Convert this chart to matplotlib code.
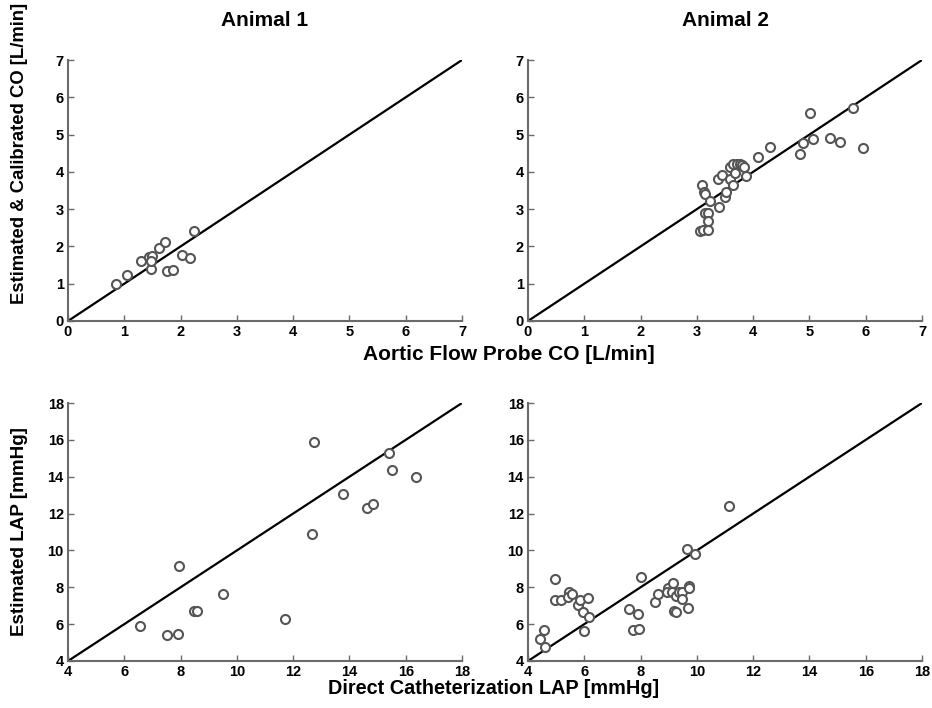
import matplotlib.pyplot as plt

plt.rcParams["font.family"] = ["Liberation Sans", "DejaVu Sans"]
plt.rcParams["font.weight"] = "bold"

# Animal 1 - cardiac output [L/min]
co1_probe = [0.85, 1.04, 1.29, 1.44, 1.50, 1.47, 1.47, 1.62, 1.72, 1.75, 1.87, 2.02, 2.17, 2.24]
co1_est = [0.99, 1.24, 1.61, 1.72, 1.75, 1.39, 1.62, 1.95, 2.12, 1.34, 1.38, 1.76, 1.70, 2.42]

# Animal 2 - cardiac output [L/min]
co2_probe = [3.10, 3.13, 3.15, 3.24, 3.14, 3.20, 3.19, 3.05, 3.11, 3.20, 3.40, 3.50,
             3.52, 3.37, 3.45, 3.58, 3.64, 3.58, 3.64, 3.68, 3.72, 3.76, 3.80, 3.84,
             3.87, 4.08, 4.30, 4.83, 4.89, 5.01, 5.06, 5.37, 5.55, 5.78, 5.96]
co2_est = [3.65, 3.47, 3.40, 3.23, 2.90, 2.90, 2.69, 2.41, 2.43, 2.44, 3.07, 3.32,
           3.47, 3.82, 3.91, 3.81, 3.64, 4.12, 4.21, 3.98, 4.20, 4.22, 4.18, 4.12,
           3.89, 4.41, 4.66, 4.48, 4.78, 5.57, 4.88, 4.92, 4.80, 5.70, 4.63]

# Animal 1 - LAP [mmHg]
lap1_direct = [6.56, 7.52, 7.92, 7.94, 8.49, 8.60, 9.50, 11.72, 12.67, 12.75,
               13.78, 14.63, 14.83, 15.41, 15.50, 16.38]
lap1_est = [5.90, 5.41, 5.46, 9.17, 6.73, 6.69, 7.62, 6.30, 10.87, 15.87,
            13.06, 12.30, 12.52, 15.27, 14.35, 13.98]

# Animal 2 - LAP [mmHg]
lap2_direct = [4.44, 4.57, 4.60, 4.96, 4.96, 5.16, 5.45, 5.41, 5.58, 5.77, 5.86, 6.13,
               5.97, 6.16, 6.00, 7.58, 7.90, 7.74, 7.94, 8.03, 8.51, 8.63, 8.96, 8.93,
               9.15, 9.13, 9.26, 9.36, 9.46, 9.48, 9.20, 9.25, 9.70, 9.71, 9.71, 9.64,
               9.93, 11.15]
lap2_est = [5.21, 5.70, 4.74, 8.47, 7.33, 7.29, 7.73, 7.47, 7.62, 7.04, 7.33, 7.44,
            6.64, 6.39, 5.61, 6.84, 6.55, 5.70, 5.75, 8.57, 7.20, 7.62, 7.98, 7.74,
            8.23, 7.74, 7.51, 7.74, 7.73, 7.36, 6.73, 6.68, 6.90, 8.09, 7.95, 10.06,
            9.82, 12.41]

co_ticks = [0, 1, 2, 3, 4, 5, 6, 7]
lap_ticks = [4, 6, 8, 10, 12, 14, 16, 18]

fig = plt.figure(figsize=(9.32, 7.08), dpi=100)

left_x, right_x, w = 68 / 932, 528 / 932, 394 / 932
top_y, top_h = 1 - 321 / 708, 261 / 708
bot_y, bot_h = 1 - 661 / 708, 258 / 708

panels = [
    ([left_x, top_y, w, top_h], co1_probe, co1_est, co_ticks, "Animal 1"),
    ([right_x, top_y, w, top_h], co2_probe, co2_est, co_ticks, "Animal 2"),
    ([left_x, bot_y, w, bot_h], lap1_direct, lap1_est, lap_ticks, None),
    ([right_x, bot_y, w, bot_h], lap2_direct, lap2_est, lap_ticks, None),
]

for rect, xs, ys, ticks, title in panels:
    ax = fig.add_axes(rect)
    lo, hi = ticks[0], ticks[-1]
    ax.plot([lo, hi], [lo, hi], color="black", linewidth=1.6, zorder=2)
    ax.plot(xs, ys, linestyle="none", marker="o", markersize=6.5,
            markerfacecolor="white", markeredgecolor="#555555",
            markeredgewidth=1.5, zorder=3)
    ax.set_xlim(lo, hi)
    ax.set_ylim(lo, hi)
    ax.set_xticks(ticks)
    ax.set_yticks(ticks)
    for s in ["top", "right"]:
        ax.spines[s].set_visible(False)
    for s in ["left", "bottom"]:
        ax.spines[s].set_color("#6a6a6a")
        ax.spines[s].set_linewidth(1.5)
    ax.tick_params(direction="in", length=4, width=1, color="#6a6a6a",
                   labelsize=10.5, pad=3)
    for lab in ax.get_xticklabels() + ax.get_yticklabels():
        lab.set_fontweight("bold")
    if title:
        fig.text(rect[0] + rect[2] / 2, 1 - 20 / 708, title, ha="center", va="center",
                 fontsize=15, fontweight="bold",
                 family=["Liberation Sans Narrow", "Liberation Sans"])

fig.text(509 / 932, 1 - 354 / 708, "Aortic Flow Probe CO [L/min]",
         ha="center", va="center", fontsize=15, fontweight="bold")
fig.text(494 / 932, 1 - 689 / 708, "Direct Catheterization LAP [mmHg]",
         ha="center", va="center", fontsize=14.3, fontweight="bold")
fig.text(20 / 932, 1 - 153 / 708, "Estimated & Calibrated CO [L/min]",
         ha="center", va="center", rotation=90, fontsize=13.3, fontweight="bold")
fig.text(20 / 932, 1 - 532 / 708, "Estimated LAP [mmHg]",
         ha="center", va="center", rotation=90, fontsize=13.6, fontweight="bold")

fig.savefig("out.png", dpi=100)
